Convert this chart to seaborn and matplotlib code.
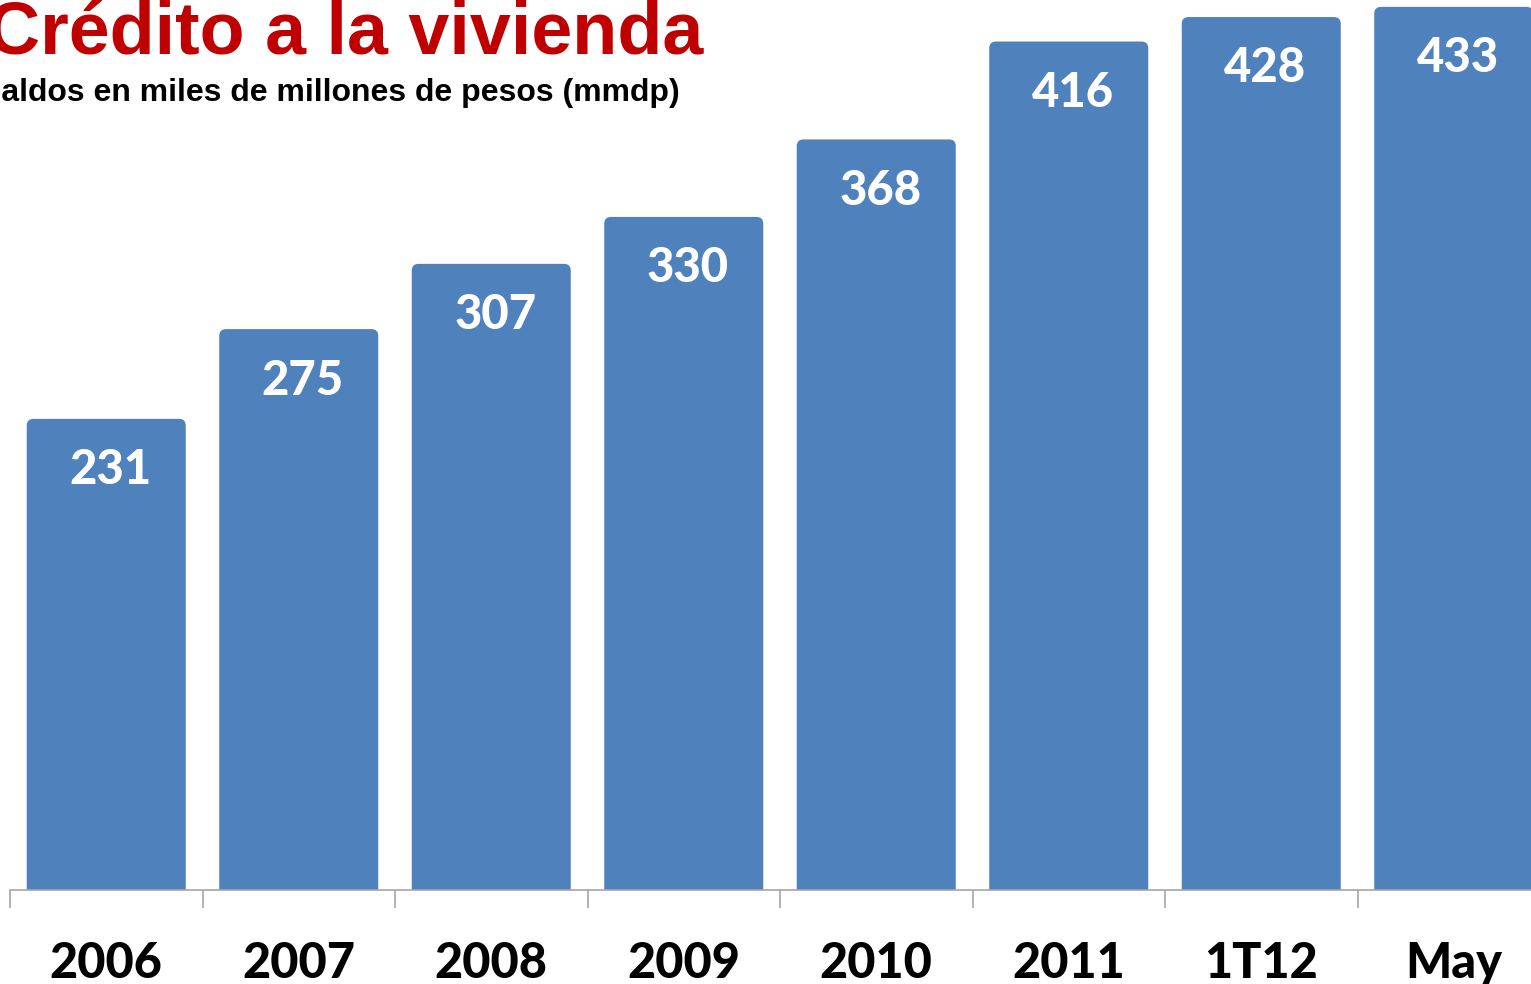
import matplotlib
matplotlib.use("Agg")
import matplotlib.pyplot as plt
import seaborn as sns
from matplotlib.patches import FancyBboxPatch

# data
periods = ["2006", "2007", "2008", "2009", "2010", "2011", "1T12", "May"]
saldos = [231, 275, 307, 330, 368, 416, 428, 433]

title = "Crédito a la vivienda"
subtitle = "Saldos en miles de millones de pesos (mmdp)"

bar_color = "#4F81BD"
W, H = 1531, 984

sns.set_style("white")
fig = plt.figure(figsize=(W / 100, H / 100), dpi=100)

# axes run past the right/top edges, like the cropped original slide
ax = fig.add_axes([10 / W, 94 / H, 1540 / W, 979 / H])
sns.barplot(x=periods, y=saldos, color=bar_color, saturation=1, width=0.826, ax=ax)
ax.set_xlim(-0.5, len(periods) - 0.5)
ax.set_ylim(0, 480)

# swap plain rectangles for slightly rounded ones
aspect = (480 / 979) / (len(periods) / 1540)
for p in list(ax.patches):
    x, w, h = p.get_x(), p.get_width(), p.get_height()
    fb = FancyBboxPatch((x, -10), w, h + 10,
                        boxstyle="round,pad=0,rounding_size=0.035",
                        mutation_aspect=aspect, facecolor=bar_color,
                        edgecolor="none", zorder=2)
    p.remove()
    ax.add_patch(fb)

for i, v in enumerate(saldos):
    ax.annotate(str(v), (i, v), xytext=(3, -37), textcoords="offset points",
                ha="center", va="center", color="white", fontsize=34,
                fontweight=900, family="Lato")

# axis: only the bottom line with boundary ticks
for s in ["left", "top", "right"]:
    ax.spines[s].set_visible(False)
ax.spines["bottom"].set_color("#A6A6A6")
ax.spines["bottom"].set_linewidth(1.2)
ax.spines["bottom"].set_zorder(3)
ax.set_yticks([])
ax.set_xticks([i - 0.5 for i in range(len(periods) + 1)], minor=True)
ax.tick_params(axis="x", which="minor", length=13, color="#A6A6A6", width=1.2,
               direction="out", bottom=True)
ax.tick_params(axis="x", which="major", length=0, pad=37)
ax.set_xticklabels(periods, fontsize=35, fontweight=900, family="Lato",
                   color="black")
ax.set_xlabel("")
ax.set_ylabel("")

fig.text(703 / W, 1 - 54 / H, title, ha="right", va="baseline",
         fontsize=53, fontweight="bold", color="#C00000",
         family="Liberation Sans")
fig.text(680 / W, 1 - 101 / H, subtitle, ha="right", va="baseline",
         fontsize=23, fontweight="bold", color="black",
         family="Liberation Sans")

fig.savefig("out.png", dpi=100)
